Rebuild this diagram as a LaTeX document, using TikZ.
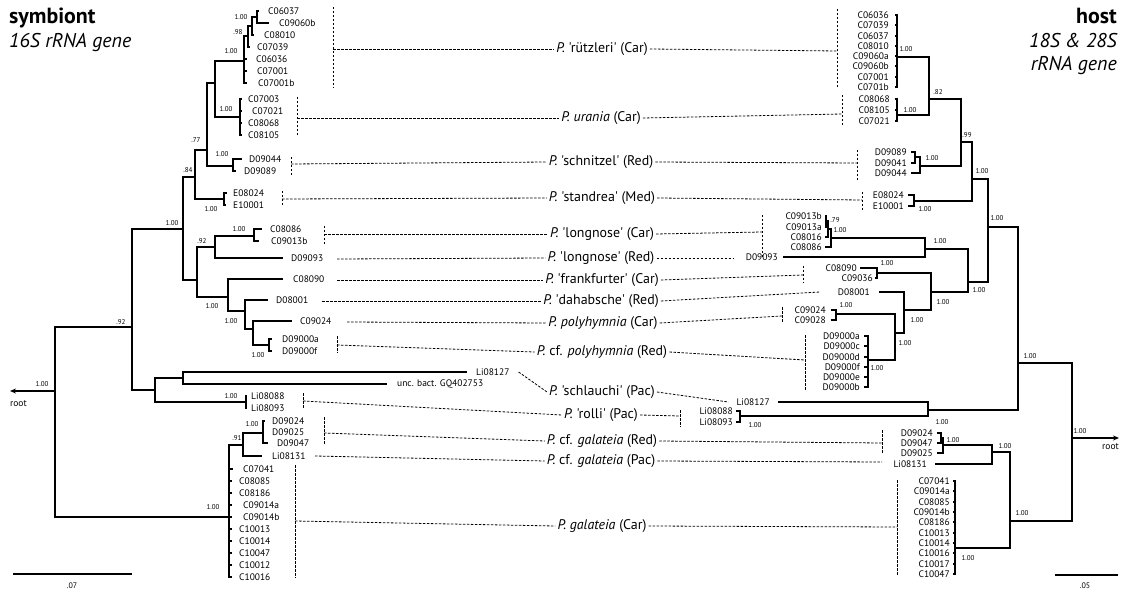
\documentclass[tikz,border=0pt]{standalone}
\usepackage{fontspec}
\newfontfamily\ptsans{PT Sans}
\usepackage{tikz}
\usetikzlibrary{positioning, calc, arrows.meta}

\newcommand{\leaffont}{\ptsans\fontsize{9.5}{10}\selectfont}
\newcommand{\suppfont}{\ptsans\fontsize{7}{7}\selectfont}

\tikzset{
  br/.style={line width=1.4bp},
  hl/.style={line width=0.8bp, dash pattern=on 2.5bp off 1.5bp},
  lleaf/.style={anchor=west, inner xsep=#1, inner ysep=0pt, font=\leaffont},
  lleaf/.default=4bp,
  rleaf/.style={anchor=east, inner xsep=#1, inner ysep=0pt, font=\leaffont},
  rleaf/.default=4bp,
  supp/.style={inner sep=0pt, font=\suppfont},
  taxon/.style={inner xsep=2bp, inner ysep=0pt, font=\ptsans\fontsize{14}{15}\selectfont},
  title/.style={inner sep=0pt, font=\ptsans\fontsize{22}{23}\selectfont\bfseries},
  subtitle/.style={inner sep=0pt, font=\ptsans\fontsize{20}{21}\selectfont\itshape},
}

\begin{document}
\begin{tikzpicture}[x=1bp, y=-1bp]
\useasboundingbox (0,0) rectangle (1121,594);

% titles
\node[title, anchor=base west] (symb) at (9,24) {symbiont};
\node[subtitle, anchor=base west] (gene16) at (9,48) {16S rRNA gene};
\node[title, anchor=base east] (host) at (1117,24) {host};
\node[subtitle, anchor=base east] (gene18) at (1117,48) {18S \& 28S};
\node[subtitle, anchor=base east] (gene18b) at (1117,71) {rRNA gene};

% symbiont leaves
\node[lleaf=9bp] (lC06037) at (259,11) {C06037};
\node[lleaf=10bp] (lC09060b) at (269,23) {C09060b};
\node[lleaf=10bp] (lC08010) at (254,35) {C08010};
\node[lleaf=7bp] (lC07039) at (250,47) {C07039};
\node[lleaf=9bp] (lC06036) at (247,59) {C06036};
\node[lleaf=10bp] (lC07001) at (247,71) {C07001};
\node[lleaf=11bp] (lC07001b) at (247,83) {C07001b};
\node[lleaf=6bp] (lC07003) at (242,99) {C07003};
\node[lleaf=10bp] (lC07021) at (242,111) {C07021};
\node[lleaf=6bp] (lC08068) at (242,123) {C08068};
\node[lleaf=6bp] (lC08105) at (242,135) {C08105};
\node[lleaf=7bp] (lD09044) at (242,159) {D09044};
\node[lleaf=8bp] (lD09089) at (236,171) {D09089};
\node[lleaf=6bp] (lE08024) at (227,193) {E08024};
\node[lleaf=7bp] (lE10001) at (226,205) {E10001};
\node[lleaf=8bp] (lC08086) at (262,229) {C08086};
\node[lleaf=12bp] (lC09013b) at (259,241) {C09013b};
\node[lleaf=8bp] (lD09093) at (283,258) {D09093};
\node[lleaf=10bp] (lC08090) at (283,279) {C08090};
\node[lleaf=8bp] (lD08001) at (268,300) {D08001};
\node[lleaf=8bp] (lC09024) at (292,321) {C09024};
\node[lleaf=10bp] (lD09000a) at (272,339) {D09000a};
\node[lleaf=10bp] (lD09000f) at (272,351) {D09000f};
\node[lleaf=9bp] (lLi08127) at (467,372) {Li08127};
\node[lleaf=10bp] (lunc) at (387,384) {unc. bact. GQ402753};
\node[lleaf] (lLi08088) at (247,396) {Li08088};
\node[lleaf] (lLi08093) at (247,408) {Li08093};
\node[lleaf=7bp] (lD09024) at (265,421) {D09024};
\node[lleaf=8bp] (lD09025) at (264,432) {D09025};
\node[lleaf=9bp] (lD09047) at (268,443) {D09047};
\node[lleaf=10bp] (lLi08131) at (262,456) {Li08131};
\node[lleaf=10bp] (lC07041) at (233,469) {C07041};
\node[lleaf=7bp] (lC08085) at (232,481) {C08085};
\node[lleaf=7bp] (lC08186) at (232,493) {C08186};
\node[lleaf=11bp] (lC09014a) at (232,505) {C09014a};
\node[lleaf=11bp] (lC09014b) at (232,517) {C09014b};
\node[lleaf=7bp] (lC10013) at (232,529) {C10013};
\node[lleaf=7bp] (lC10014) at (232,541) {C10014};
\node[lleaf=7bp] (lC10047) at (232,553) {C10047};
\node[lleaf=7bp] (lC10012) at (232,565) {C10012};
\node[lleaf=7bp] (lC10016) at (232,577) {C10016};

% symbiont inner nodes
\coordinate (La1) at (257,17);
\coordinate (La2) at (252,26);
\coordinate (La3) at (248,36);
\coordinate (La4) at (244,61);
\coordinate (La5) at (215,83);
\coordinate (Lb) at (240,117);
\coordinate (La6) at (207,150);
\coordinate (Lc) at (233,166);
\coordinate (La7) at (195,177);
\coordinate (Ld) at (224,199);
\coordinate (La8) at (183,229);
\coordinate (Le) at (254,236);
\coordinate (Lf) at (215,247);
\coordinate (Lg) at (197,280);
\coordinate (Li) at (228,297);
\coordinate (Lj) at (245,311);
\coordinate (Lk) at (253,329);
\coordinate (Ll) at (269,345);
\coordinate (Lm) at (132,327);
\coordinate (Ln) at (183,378);
\coordinate (Lo) at (155,390);
\coordinate (Lp) at (246,402);
\coordinate (Lq) at (263,433);
\coordinate (Lr) at (243,445);
\coordinate (Ls) at (229,517);
\coordinate (Lroot) at (55,391);
\coordinate (Lrootend) at (10,391);

% symbiont branches
\draw[br] (La1) |- (lC06037.west);
\draw[br] (La1) |- (lC09060b.west);
\draw[br] (La2) |- (La1);
\draw[br] (La2) |- (lC08010.west);
\draw[br] (La3) |- (La2);
\draw[br] (La3) |- (lC07039.west);
\draw[br] (La4) |- (La3);
\draw[br] (La4) |- (lC06036.west);
\draw[br] (La4) |- (lC07001.west);
\draw[br] (La4) |- (lC07001b.west);
\draw[br] (La5) |- (La4);
\draw[br] (La5) |- (Lb);
\draw[br] (Lb) |- (lC07003.west);
\draw[br] (Lb) |- (lC07021.west);
\draw[br] (Lb) |- (lC08068.west);
\draw[br] (Lb) |- (lC08105.west);
\draw[br] (La6) |- (La5);
\draw[br] (La6) |- (Lc);
\draw[br] (Lc) |- (lD09044.west);
\draw[br] (Lc) |- (lD09089.west);
\draw[br] (La7) |- (La6);
\draw[br] (La7) |- (Ld);
\draw[br] (Ld) |- (lE08024.west);
\draw[br] (Ld) |- (lE10001.west);
\draw[br] (La8) |- (La7);
\draw[br] (La8) |- (Lg);
\draw[br] (Lg) |- (Lf);
\draw[br] (Lg) |- (Li);
\draw[br] (Lf) |- (Le);
\draw[br] (Lf) |- (lD09093.west);
\draw[br] (Le) |- (lC08086.west);
\draw[br] (Le) |- (lC09013b.west);
\draw[br] (Li) |- (lC08090.west);
\draw[br] (Li) |- (Lj);
\draw[br] (Lj) |- (lD08001.west);
\draw[br] (Lj) |- (Lk);
\draw[br] (Lk) |- (lC09024.west);
\draw[br] (Lk) |- (Ll);
\draw[br] (Ll) |- (lD09000a.west);
\draw[br] (Ll) |- (lD09000f.west);
\draw[br] (Lm) |- (La8);
\draw[br] (Lm) |- (Lo);
\draw[br] (Lo) |- (Ln);
\draw[br] (Lo) |- (Lp);
\draw[br] (Ln) |- (lLi08127.west);
\draw[br] (Ln) |- (lunc.west);
\draw[br] (Lp) |- (lLi08088.west);
\draw[br] (Lp) |- (lLi08093.west);
\draw[br] (Lroot) |- (Lm);
\draw[br] (Lroot) |- (Ls);
\draw[br] (Ls) |- (Lr);
\draw[br] (Ls) |- (lC07041.west);
\draw[br] (Ls) |- (lC08085.west);
\draw[br] (Ls) |- (lC08186.west);
\draw[br] (Ls) |- (lC09014a.west);
\draw[br] (Ls) |- (lC09014b.west);
\draw[br] (Ls) |- (lC10013.west);
\draw[br] (Ls) |- (lC10014.west);
\draw[br] (Ls) |- (lC10047.west);
\draw[br] (Ls) |- (lC10012.west);
\draw[br] (Ls) |- (lC10016.west);
\draw[br] (Lr) |- (Lq);
\draw[br] (Lr) |- (lLi08131.west);
\draw[br] (Lq) |- (lD09024.west);
\draw[br] (Lq) |- (lD09025.west);
\draw[br] (Lq) |- (lD09047.west);
\draw[br, -{Stealth[length=6bp, width=5bp]}] (Lroot) -- (Lrootend);

% symbiont support values
\node[supp] (sL1) at (241,17) {1.00};
\node[supp] (sL2) at (238,32) {.98};
\node[supp] (sL3) at (231,51) {1.00};
\node[supp] (sL4) at (226,109) {1.00};
\node[supp] (sL5) at (196,140) {.77};
\node[supp] (sL6) at (222,154) {1.00};
\node[supp] (sL7) at (188,170) {.84};
\node[supp] (sL8) at (211,209) {1.00};
\node[supp] (sL9) at (239,229) {1.00};
\node[supp] (sL10) at (202,241) {.92};
\node[supp] (sL11) at (212,306) {1.00};
\node[supp] (sL12) at (231,321) {1.00};
\node[supp] (sL13) at (258,355) {1.00};
\node[supp] (sL14) at (172,223) {1.00};
\node[supp] (sL15) at (121,322) {.92};
\node[supp] (sL16) at (231,396) {1.00};
\node[supp] (sL17) at (252,424) {1.00};
\node[supp] (sL18) at (237,438) {.91};
\node[supp] (sL19) at (213,507) {1.00};
\node[supp] (sL20) at (42,384) {1.00};
\node[lleaf=0bp] (rootL) at (10,404) {root};

% host leaves
\node[rleaf=6bp] (rC06036) at (895,15) {C06036};
\node[rleaf=6bp] (rC07039) at (895,25) {C07039};
\node[rleaf=6bp] (rC06037) at (895,36) {C06037};
\node[rleaf=6bp] (rC08010) at (895,46) {C08010};
\node[rleaf=6bp] (rC09060a) at (895,56) {C09060a};
\node[rleaf=6bp] (rC09060b) at (895,66) {C09060b};
\node[rleaf=6bp] (rC07001) at (895,77) {C07001};
\node[rleaf=6bp] (rC0701b) at (895,87) {C0701b};
\node[rleaf=5bp] (rC08068) at (895,99) {C08068};
\node[rleaf=5bp] (rC08105) at (895,110) {C08105};
\node[rleaf=5bp] (rC07021) at (895,121) {C07021};
\node[rleaf] (rD09089) at (911,152) {D09089};
\node[rleaf] (rD09041) at (911,163) {D09041};
\node[rleaf] (rD09044) at (911,173) {D09044};
\node[rleaf] (rE08024) at (908,195) {E08024};
\node[rleaf] (rE10001) at (908,206) {E10001};
\node[rleaf=3bp] (rC09013b) at (825,216) {C09013b};
\node[rleaf=3bp] (rC09013a) at (825,227) {C09013a};
\node[rleaf=3bp] (rC08016) at (825,237) {C08016};
\node[rleaf=3bp] (rC08086) at (825,247) {C08086};
\node[rleaf=5bp] (rD09093) at (783,257) {D09093};
\node[rleaf=3bp] (rC08090) at (860,268) {C08090};
\node[rleaf=2bp] (rC09036) at (875,278) {C09036};
\node[rleaf=9bp] (rD08001) at (879,292) {D08001};
\node[rleaf=5bp] (rC09024) at (831,310) {C09024};
\node[rleaf=5bp] (rC09028) at (831,320) {C09028};
\node[rleaf] (rD09000a) at (864,336) {D09000a};
\node[rleaf] (rD09000c) at (864,346) {D09000c};
\node[rleaf] (rD09000d) at (864,357) {D09000d};
\node[rleaf] (rD09000f) at (864,367) {D09000f};
\node[rleaf] (rD09000e) at (864,377) {D09000e};
\node[rleaf] (rD09000b) at (864,387) {D09000b};
\node[rleaf=8bp] (rLi08127) at (778,402) {Li08127};
\node[rleaf=3bp] (rLi08088) at (736,411) {Li08088};
\node[rleaf=3bp] (rLi08093) at (736,422) {Li08093};
\node[rleaf] (rD09024) at (937,433) {D09024};
\node[rleaf] (rD09047) at (937,443) {D09047};
\node[rleaf] (rD09025) at (937,453) {D09025};
\node[rleaf=8bp] (rLi08131) at (935,464) {Li08131};
\node[rleaf=3bp] (rC07041) at (953,481) {C07041};
\node[rleaf=3bp] (rC09014a) at (953,491) {C09014a};
\node[rleaf=3bp] (rC08085) at (953,502) {C08085};
\node[rleaf=3bp] (rC09014b) at (953,512) {C09014b};
\node[rleaf=3bp] (rC08186) at (953,522) {C08186};
\node[rleaf=3bp] (rC10013) at (953,533) {C10013};
\node[rleaf=3bp] (rC10014) at (953,543) {C10014};
\node[rleaf=3bp] (rC10016) at (953,553) {C10016};
\node[rleaf=3bp] (rC10017) at (953,564) {C10017};
\node[rleaf=3bp] (rC10047) at (953,574) {C10047};

% host inner nodes
\coordinate (Ra) at (897,57);
\coordinate (Rb) at (897,115);
\coordinate (R82) at (929,99);
\coordinate (Rs1) at (915,157);
\coordinate (Rs2) at (920,166);
\coordinate (Rx) at (961,142);
\coordinate (Rst) at (914,201);
\coordinate (R99) at (972,179);
\coordinate (Rl1) at (826,221);
\coordinate (Rl2) at (828,229);
\coordinate (Rl3) at (831,238);
\coordinate (Rl) at (925,249);
\coordinate (Rfr) at (877,273);
\coordinate (Rpo) at (836,314);
\coordinate (Rd9) at (868,360);
\coordinate (Rp2) at (895,333);
\coordinate (Rp3) at (904,310);
\coordinate (Rp4) at (931,292);
\coordinate (Rp5) at (968,282);
\coordinate (Rup) at (988,227);
\coordinate (Rli1) at (740,416);
\coordinate (Rli) at (928,410);
\coordinate (Rtop) at (1018,363);
\coordinate (Rg1) at (941,438);
\coordinate (Rg2) at (943,445);
\coordinate (Rg3) at (992,452);
\coordinate (Rgc) at (955,548);
\coordinate (Rg4) at (1010,521);
\coordinate (Rroot) at (1072,438);
\coordinate (Rrootend) at (1119,438);

% host branches
\draw[br] (Ra) |- (rC06036.east);
\draw[br] (Ra) |- (rC07039.east);
\draw[br] (Ra) |- (rC06037.east);
\draw[br] (Ra) |- (rC08010.east);
\draw[br] (Ra) |- (rC09060a.east);
\draw[br] (Ra) |- (rC09060b.east);
\draw[br] (Ra) |- (rC07001.east);
\draw[br] (Ra) |- (rC0701b.east);
\draw[br] (Rb) |- (rC08068.east);
\draw[br] (Rb) |- (rC08105.east);
\draw[br] (Rb) |- (rC07021.east);
\draw[br] (R82) |- (Ra);
\draw[br] (R82) |- (Rb);
\draw[br] (Rs1) |- (rD09089.east);
\draw[br] (Rs1) |- (rD09041.east);
\draw[br] (Rs2) |- (Rs1);
\draw[br] (Rs2) |- (rD09044.east);
\draw[br] (Rx) |- (R82);
\draw[br] (Rx) |- (Rs2);
\draw[br] (Rst) |- (rE08024.east);
\draw[br] (Rst) |- (rE10001.east);
\draw[br] (R99) |- (Rx);
\draw[br] (R99) |- (Rst);
\draw[br] (Rl1) |- (rC09013b.east);
\draw[br] (Rl1) |- (rC09013a.east);
\draw[br] (Rl2) |- (Rl1);
\draw[br] (Rl2) |- (rC08016.east);
\draw[br] (Rl3) |- (Rl2);
\draw[br] (Rl3) |- (rC08086.east);
\draw[br] (Rl) |- (Rl3);
\draw[br] (Rl) |- (rD09093.east);
\draw[br] (Rfr) |- (rC08090.east);
\draw[br] (Rfr) |- (rC09036.east);
\draw[br] (Rpo) |- (rC09024.east);
\draw[br] (Rpo) |- (rC09028.east);
\draw[br] (Rd9) |- (rD09000a.east);
\draw[br] (Rd9) |- (rD09000c.east);
\draw[br] (Rd9) |- (rD09000d.east);
\draw[br] (Rd9) |- (rD09000f.east);
\draw[br] (Rd9) |- (rD09000e.east);
\draw[br] (Rd9) |- (rD09000b.east);
\draw[br] (Rp2) |- (Rpo);
\draw[br] (Rp2) |- (Rd9);
\draw[br] (Rp3) |- (rD08001.east);
\draw[br] (Rp3) |- (Rp2);
\draw[br] (Rp4) |- (Rfr);
\draw[br] (Rp4) |- (Rp3);
\draw[br] (Rp5) |- (Rl);
\draw[br] (Rp5) |- (Rp4);
\draw[br] (Rup) |- (R99);
\draw[br] (Rup) |- (Rp5);
\draw[br] (Rli1) |- (rLi08088.east);
\draw[br] (Rli1) |- (rLi08093.east);
\draw[br] (Rli) |- (rLi08127.east);
\draw[br] (Rli) |- (Rli1);
\draw[br] (Rtop) |- (Rup);
\draw[br] (Rtop) |- (Rli);
\draw[br] (Rg1) |- (rD09024.east);
\draw[br] (Rg1) |- (rD09047.east);
\draw[br] (Rg2) |- (Rg1);
\draw[br] (Rg2) |- (rD09025.east);
\draw[br] (Rg3) |- (Rg2);
\draw[br] (Rg3) |- (rLi08131.east);
\draw[br] (Rgc) |- (rC07041.east);
\draw[br] (Rgc) |- (rC09014a.east);
\draw[br] (Rgc) |- (rC08085.east);
\draw[br] (Rgc) |- (rC09014b.east);
\draw[br] (Rgc) |- (rC08186.east);
\draw[br] (Rgc) |- (rC10013.east);
\draw[br] (Rgc) |- (rC10014.east);
\draw[br] (Rgc) |- (rC10016.east);
\draw[br] (Rgc) |- (rC10017.east);
\draw[br] (Rgc) |- (rC10047.east);
\draw[br] (Rg4) |- (Rg3);
\draw[br] (Rg4) |- (Rgc);
\draw[br] (Rroot) |- (Rtop);
\draw[br] (Rroot) |- (Rg4);
\draw[br, -{Stealth[length=6bp, width=5bp]}] (Rroot) -- (Rrootend);

% host support values
\node[supp] (sR1) at (906,49) {1.00};
\node[supp] (sR2) at (910,110) {1.00};
\node[supp] (sR3) at (938,92) {.82};
\node[supp] (sR4) at (932,158) {1.00};
\node[supp] (sR5) at (967,135) {.99};
\node[supp] (sR6) at (925,209) {1.00};
\node[supp] (sR7) at (982,171) {1.00};
\node[supp] (sR8) at (835,220) {.79};
\node[supp] (sR9) at (840,230) {1.00};
\node[supp] (sR10) at (940,241) {1.00};
\node[supp] (sR11) at (979,290) {1.00};
\node[supp] (sR12) at (997,218) {1.00};
\node[supp] (sR13) at (887,263) {1.00};
\node[supp] (sR14) at (943,302) {1.00};
\node[supp] (sR15) at (917,320) {1.00};
\node[supp] (sR16) at (846,305) {1.00};
\node[supp] (sR17) at (905,343) {1.00};
\node[supp] (sR18) at (877,368) {1.00};
\node[supp] (sR19) at (755,425) {1.00};
\node[supp] (sR20) at (942,422) {1.00};
\node[supp] (sR21) at (1030,356) {1.00};
\node[supp] (sR22) at (953,440) {1.00};
\node[supp] (sR23) at (1005,446) {1.00};
\node[supp] (sR24) at (968,558) {1.00};
\node[supp] (sR25) at (1022,513) {1.00};
\node[supp] (sR26) at (1080,431) {1.00};
\node[rleaf=0bp] (rootR) at (1119,447) {root};

% host species in the middle
\node[taxon] (m1) at (602,49) {\textit{P.} 'rützleri' (Car)};
\node[taxon] (m2) at (601,118) {\textit{P. urania} (Car)};
\node[taxon] (m3) at (601,162) {\textit{P.} 'schnitzel' (Red)};
\node[taxon] (m4) at (602,198) {\textit{P.} 'standrea' (Med)};
\node[taxon] (m5) at (602,234) {\textit{P.} 'longnose' (Car)};
\node[taxon] (m6) at (601,258) {\textit{P.} 'longnose' (Red)};
\node[taxon] (m7) at (602,280) {\textit{P.} 'frankfurter' (Car)};
\node[taxon] (m8) at (601,301) {\textit{P.} 'dahabsche' (Red)};
\node[taxon] (m9) at (603,323) {\textit{P. polyhymnia} (Car)};
\node[taxon] (m10) at (602,352) {\textit{P.} cf. \textit{polyhymnia} (Red)};
\node[taxon] (m11) at (602,392) {\textit{P.} 'schlauchi' (Pac)};
\node[taxon] (m12) at (601,415) {\textit{P.} 'rolli' (Pac)};
\node[taxon] (m13) at (602,441) {\textit{P.} cf. \textit{galateia} (Red)};
\node[taxon] (m14) at (601,461) {\textit{P.} cf. \textit{galateia} (Pac)};
\node[taxon] (m15) at (602,526) {\textit{P. galateia} (Car)};

% dashed bars round the leaf groups
\draw[hl] (333,7) -- (333,88);
\draw[hl] (297,97) -- (297,137);
\draw[hl] (291,157) -- (291,176);
\draw[hl] (282,191) -- (282,207);
\draw[hl] (324,226) -- (324,244);
\draw[hl] (337,336) -- (337,353);
\draw[hl] (303,393) -- (303,409);
\draw[hl] (324,417) -- (324,444);
\draw[hl] (295,465) -- (295,578);
\draw[hl] (837,9) -- (837,89);
\draw[hl] (842,95) -- (842,127);
\draw[hl] (857,150) -- (857,180);
\draw[hl] (862,192) -- (862,210);
\draw[hl] (762,215) -- (762,258);
\draw[hl] (803,266) -- (803,283);
\draw[hl] (782,307) -- (782,322);
\draw[hl] (805,335) -- (805,390);
\draw[hl] (680,410) -- (680,427);
\draw[hl] (882,430) -- (882,454);
\draw[hl] (897,480) -- (897,575);

% link ends
\coordinate (bl1) at (333,49);
\coordinate (bl2) at (297,118);
\coordinate (bl3) at (291,164);
\coordinate (bl4) at (282,199);
\coordinate (bl5) at (324,234);
\coordinate (bl6) at (337,259);
\coordinate (bl7) at (337,280);
\coordinate (bl8) at (322,301);
\coordinate (bl9) at (347,322);
\coordinate (bl10) at (337,345);
\coordinate (bl12) at (303,401);
\coordinate (bl13) at (324,433);
\coordinate (bl14) at (315,456);
\coordinate (bl15) at (295,521);
\coordinate (br1) at (837,51);
\coordinate (br2) at (842,114);
\coordinate (br3) at (857,163);
\coordinate (br4) at (862,200);
\coordinate (br5) at (762,232);
\coordinate (br6) at (733,258);
\coordinate (br7) at (803,275);
\coordinate (br8) at (820,292);
\coordinate (br9) at (782,316);
\coordinate (br10) at (805,360);
\coordinate (br12) at (680,416);
\coordinate (br13) at (882,443);
\coordinate (br14) at (882,462);
\coordinate (br15) at (897,527);

% symbiont -- species -- host links
\draw[hl] (bl1) -- (m1.west);  \draw[hl] (m1.east) -- (br1);
\draw[hl] (bl2) -- (m2.west);  \draw[hl] (m2.east) -- (br2);
\draw[hl] (bl3) -- (m3.west);  \draw[hl] (m3.east) -- (br3);
\draw[hl] (bl4) -- (m4.west);  \draw[hl] (m4.east) -- (br4);
\draw[hl] (bl5) -- (m5.west);  \draw[hl] (m5.east) -- (br5);
\draw[hl] (bl6) -- (m6.west);  \draw[hl] (m6.east) -- (br6);
\draw[hl] (bl7) -- (m7.west);  \draw[hl] (m7.east) -- (br7);
\draw[hl] (bl8) -- (m8.west);  \draw[hl] (m8.east) -- (br8);
\draw[hl] (bl9) -- (m9.west);  \draw[hl] (m9.east) -- (br9);
\draw[hl] (bl10) -- (m10.west); \draw[hl] (m10.east) -- (br10);
\draw[hl] (lLi08127.east) -- (m11.west); \draw[hl] (m11.east) -- (rLi08127.west);
\draw[hl] (bl12) -- (m12.west); \draw[hl] (m12.east) -- (br12);
\draw[hl] (bl13) -- (m13.west); \draw[hl] (m13.east) -- (br13);
\draw[hl] (bl14) -- (m14.west); \draw[hl] (m14.east) -- (br14);
\draw[hl] (bl15) -- (m15.west); \draw[hl] (m15.east) -- (br15);

% scale bars
\coordinate (sbl1) at (13,574);
\coordinate (sbl2) at (132,574);
\draw[line width=1.1bp] (sbl1) -- (sbl2);
\node[supp, font=\ptsans\fontsize{8}{8}\selectfont] (sbl) at (72,586) {.07};
\coordinate (sbr1) at (1055,575);
\coordinate (sbr2) at (1118,575);
\draw[line width=1.1bp] (sbr1) -- (sbr2);
\node[supp, font=\ptsans\fontsize{8}{8}\selectfont] (sbr) at (1085,586) {.05};
\end{tikzpicture}
\end{document}
